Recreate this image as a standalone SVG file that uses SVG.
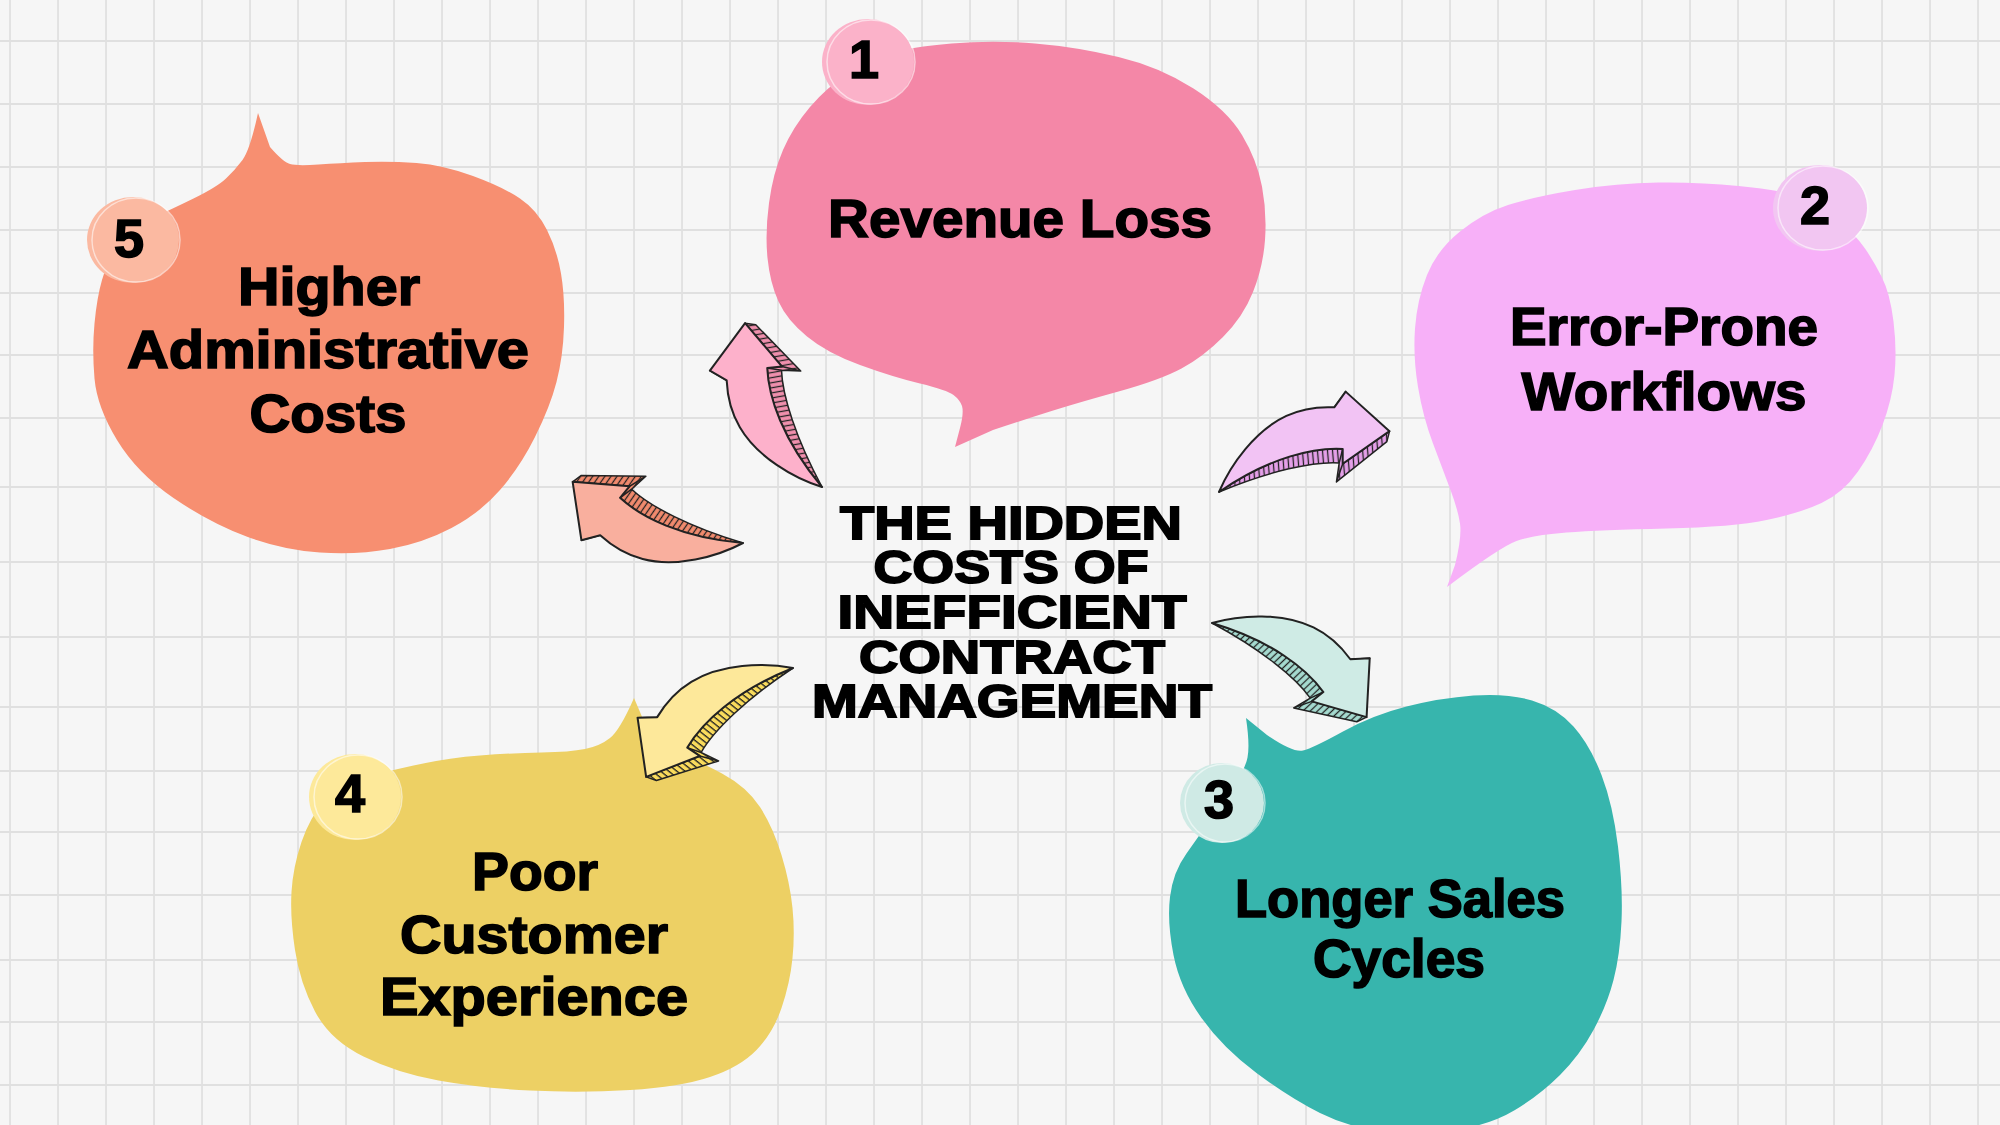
<svg xmlns="http://www.w3.org/2000/svg" xmlns:xlink="http://www.w3.org/1999/xlink" width="2000" height="1125" viewBox="0 0 2000 1125">
<style>
.lbl{font-family:"Liberation Sans",Arial,sans-serif;font-weight:700;fill:#000;stroke:#000;stroke-width:1.6;text-anchor:middle;font-size:53px}
.num{font-family:"Liberation Sans",Arial,sans-serif;font-weight:700;fill:#000;stroke:#000;stroke-width:1.6;text-anchor:middle;font-size:54px}
.ttl{font-family:"Liberation Sans",Arial,sans-serif;font-weight:700;fill:#000;stroke:#000;stroke-width:1.8;text-anchor:middle;font-size:46px}
.grid{stroke:#e0e0e0;stroke-width:1.8;fill:none}
.sk{fill:none;stroke:#fff;stroke-opacity:.55;stroke-width:1.5}
.out{stroke:#222;stroke-width:2;stroke-linejoin:round}
.sout{stroke:#222;stroke-width:1.5;stroke-linejoin:round}
</style>
<defs>
<pattern id="ribs" patternUnits="userSpaceOnUse" width="5" height="10" patternTransform="rotate(15)">
<line x1="1.5" y1="0" x2="1.5" y2="10" stroke="#222" stroke-width="1.3"/>
</pattern>
<path id="face" d="M0,0 C20,-22 55,-46 89,-49 C110,-51 125,-46 137,-41 L153,-52 L181,0 L126,15 L131,1 C105,-10 60,-16 0,0 Z"/>
<path id="side" d="M0,0 C60,-16 105,-10 131,1 L123,13 C100,3 55,-3 0,0 Z M126,15 L131,1 L123,13 L114,30 Z M181,0 L126,15 L114,30 L175,9 Z M137,-41 L153,-52 L145,-40 L129,-29 Z"/>
</defs>

<g id="background">
<rect width="2000" height="1125" fill="#f6f6f6"/>
<path class="grid" d="M10,0V1125M58,0V1125M106,0V1125M154,0V1125M202,0V1125M250,0V1125M298,0V1125M346,0V1125M394,0V1125M442,0V1125M490,0V1125M538,0V1125M586,0V1125M634,0V1125M682,0V1125M730,0V1125M778,0V1125M826,0V1125M874,0V1125M922,0V1125M970,0V1125M1018,0V1125M1066,0V1125M1114,0V1125M1162,0V1125M1210,0V1125M1258,0V1125M1306,0V1125M1354,0V1125M1402,0V1125M1450,0V1125M1498,0V1125M1546,0V1125M1594,0V1125M1642,0V1125M1690,0V1125M1738,0V1125M1786,0V1125M1834,0V1125M1882,0V1125M1930,0V1125M1978,0V1125"/>
<path class="grid" d="M0,41H2000M0,104H2000M0,167H2000M0,230H2000M0,293H2000M0,355H2000M0,418H2000M0,487H2000M0,562H2000M0,637H2000M0,707H2000M0,771H2000M0,832H2000M0,895H2000M0,960H2000M0,1022H2000M0,1085H2000"/>
</g>

<g id="node-5">
<path fill="#f78f71" d="M258,113 L270,147 Q283,162 290,164 Q297,166 318.5,164.5 Q340,163 365,162 Q390,161 416.5,163 Q443,165 473,176 Q503,187 520,198.5 Q537,210 547,230 Q557,250 561,273.5 Q565,297 564,327 Q563,357 556.5,382 Q550,407 535,437 Q520,467 500,490 Q480,513 451.5,528 Q423,543 390,549 Q357,555 320,552.5 Q283,550 246.5,536.5 Q210,523 173.5,498 Q137,473 117,440 Q97,407 94.5,378.5 Q92,350 94.5,323.5 Q97,297 102,280 Q107,263 118.5,245.5 Q130,228 150,219 Q170,210 193.5,198.5 Q217,187 226,178.5 Q235,170 242.5,160 Q250,150 258,113 Z"/>
<ellipse cx="133" cy="240" rx="46" ry="43" fill="#fbb9a1"/>
<ellipse class="sk" cx="136" cy="240" rx="44" ry="42"/>
<text class="num" x="129" y="257">5</text>
<text class="lbl" x="329" y="305" textLength="182" lengthAdjust="spacingAndGlyphs">Higher</text>
<text class="lbl" x="328" y="368" textLength="402" lengthAdjust="spacingAndGlyphs">Administrative</text>
<text class="lbl" x="328" y="432" textLength="157" lengthAdjust="spacingAndGlyphs">Costs</text>
</g>

<g id="node-1">
<path fill="#f487a7" d="M955,447 L960,428 Q964,413 962,406 Q960,400 953.5,395 Q947,390 920,383.5 Q893,377 860,365 Q827,353 807,336.5 Q787,320 778.5,301.5 Q770,283 767.5,258 Q765,233 769,203 Q773,173 783,150 Q793,127 810,107 Q827,87 848.5,73.5 Q870,60 890,53.5 Q910,47 951.5,43.5 Q993,40 1035,43.5 Q1077,47 1118.5,57 Q1160,67 1193.5,88.5 Q1227,110 1242,135 Q1257,160 1262,186.5 Q1267,213 1265,240 Q1263,267 1253,292 Q1243,317 1223,337 Q1203,357 1181.5,368.5 Q1160,380 1118.5,391.5 Q1077,403 1050,411.5 Q1023,420 993,430 L955,447 Z"/>
<ellipse cx="868" cy="62" rx="46" ry="43" fill="#fbb2c9"/>
<ellipse class="sk" cx="871" cy="62" rx="44" ry="42"/>
<text class="num" x="864" y="78">1</text>
<text class="lbl" x="1020" y="237" textLength="384" lengthAdjust="spacingAndGlyphs">Revenue Loss</text>
</g>

<g id="node-2">
<path fill="#f7b0f8" d="M1447,587 L1455,565 Q1462,537 1460,523.5 Q1458,510 1450.5,490 Q1443,470 1433,443.5 Q1423,417 1418,387 Q1413,357 1415,328.5 Q1417,300 1427,275 Q1437,250 1460,231.5 Q1483,213 1508,205 Q1533,197 1575,190 Q1617,183 1658.5,182.5 Q1700,182 1738.5,186 Q1777,190 1798.5,195 Q1820,200 1838.5,218.5 Q1857,237 1865,248.5 Q1873,260 1881.5,276.5 Q1890,293 1893.5,321.5 Q1897,350 1894.5,375 Q1892,400 1882.5,425 Q1873,450 1858,471.5 Q1843,493 1821.5,503 Q1800,513 1766.5,520 Q1733,527 1666.5,528.5 Q1600,530 1566.5,532.5 Q1533,535 1516.5,541 Q1500,547 1447,587 Z"/>
<ellipse cx="1820" cy="208" rx="47" ry="43" fill="#f2c6f2"/>
<ellipse class="sk" cx="1823" cy="208" rx="45" ry="42"/>
<text class="num" x="1815" y="224">2</text>
<text class="lbl" x="1664" y="345" textLength="308" lengthAdjust="spacingAndGlyphs">Error-Prone</text>
<text class="lbl" x="1664" y="410" textLength="285" lengthAdjust="spacingAndGlyphs">Workflows</text>
</g>

<g id="node-3">
<path fill="#37b5ad" d="M1246,718 L1267,735 Q1293,753 1303,750.5 Q1313,748 1343,731.5 Q1373,715 1406.5,706.5 Q1440,698 1473.5,695.5 Q1507,693 1532,700.5 Q1557,708 1573.5,726.5 Q1590,745 1601.5,775 Q1613,805 1618,846.5 Q1623,888 1621.5,921.5 Q1620,955 1613.5,980 Q1607,1005 1593.5,1030 Q1580,1055 1560,1075 Q1540,1095 1515,1110 Q1490,1125 1455,1130 Q1420,1135 1385,1131.5 Q1350,1128 1320,1113 Q1290,1098 1256.5,1073 Q1223,1048 1201.5,1018 Q1180,988 1173.5,955 Q1167,922 1170,897 Q1173,872 1186.5,853.5 Q1200,835 1211,817.5 Q1222,800 1233.5,785 Q1245,770 1247.5,757.5 Q1250,745 1246,718 Z"/>
<ellipse cx="1222" cy="803" rx="42" ry="40" fill="#cfeae5"/>
<ellipse class="sk" cx="1225" cy="803" rx="40" ry="39"/>
<text class="num" x="1219" y="818">3</text>
<text class="lbl" x="1400" y="917" textLength="330" lengthAdjust="spacingAndGlyphs">Longer Sales</text>
<text class="lbl" x="1399" y="977" textLength="172" lengthAdjust="spacingAndGlyphs">Cycles</text>
</g>

<g id="node-4">
<path fill="#edd064" d="M634,698 L640,712 Q650,737 659,745 Q668,753 682.5,756.5 Q697,760 722,773.5 Q747,787 760,807 Q773,827 781.5,855 Q790,883 792.5,908 Q795,933 792.5,958 Q790,983 781.5,1008 Q773,1033 756.5,1050 Q740,1067 710,1077 Q680,1087 630,1090 Q580,1093 530,1090.5 Q480,1088 438.5,1080.5 Q397,1073 363.5,1056.5 Q330,1040 315,1011.5 Q300,983 295,950 Q290,917 291.5,892 Q293,867 301.5,842 Q310,817 325,800 Q340,783 360,778 Q380,773 413.5,765.5 Q447,758 480,755.5 Q513,753 541.5,752.5 Q570,752 585,749 Q600,746 610,738 Q620,730 634,698 Z"/>
<ellipse cx="355" cy="797" rx="46" ry="43" fill="#fde99a"/>
<ellipse class="sk" cx="358" cy="797" rx="44" ry="42"/>
<text class="num" x="350" y="812">4</text>
<text class="lbl" x="535" y="890" textLength="126" lengthAdjust="spacingAndGlyphs">Poor</text>
<text class="lbl" x="534" y="953" textLength="268" lengthAdjust="spacingAndGlyphs">Customer</text>
<text class="lbl" x="534" y="1015" textLength="308" lengthAdjust="spacingAndGlyphs">Experience</text>
</g>

<g id="connectors">
<g id="arrow-1" transform="translate(822,487) rotate(-115.15)">
<use xlink:href="#side" href="#side" fill="#f190ae" class="sout"/>
<use xlink:href="#side" href="#side" fill="url(#ribs)"/>
<use xlink:href="#face" href="#face" fill="#fdb1cb" class="out"/>
</g>
<g id="arrow-2" transform="translate(1219,492) rotate(-19.63)">
<use xlink:href="#side" href="#side" fill="#e6a0ea" class="sout"/>
<use xlink:href="#side" href="#side" fill="url(#ribs)"/>
<use xlink:href="#face" href="#face" fill="#f2c3f4" class="out"/>
</g>
<g id="arrow-3" transform="translate(1212,623) rotate(31.34)">
<use xlink:href="#side" href="#side" fill="#a6dcd1" class="sout"/>
<use xlink:href="#side" href="#side" fill="url(#ribs)"/>
<use xlink:href="#face" href="#face" fill="#cfebe5" class="out"/>
</g>
<g id="arrow-4" transform="translate(793,668) rotate(143.45) scale(1.01,-1.01)">
<use xlink:href="#side" href="#side" fill="#f9db5c" class="sout"/>
<use xlink:href="#side" href="#side" fill="url(#ribs)"/>
<use xlink:href="#face" href="#face" fill="#fde89a" class="out"/>
</g>
<g id="arrow-5" transform="translate(743,543) rotate(-160.26)">
<use xlink:href="#side" href="#side" fill="#f38b6e" class="sout"/>
<use xlink:href="#side" href="#side" fill="url(#ribs)"/>
<use xlink:href="#face" href="#face" fill="#f9af9e" class="out"/>
</g>
</g>

<g id="title">
<text class="ttl" x="1011" y="539" textLength="342" lengthAdjust="spacingAndGlyphs">THE HIDDEN</text>
<text class="ttl" x="1011" y="583" textLength="275" lengthAdjust="spacingAndGlyphs">COSTS OF</text>
<text class="ttl" x="1012" y="628" textLength="349" lengthAdjust="spacingAndGlyphs">INEFFICIENT</text>
<text class="ttl" x="1012" y="673" textLength="306" lengthAdjust="spacingAndGlyphs">CONTRACT</text>
<text class="ttl" x="1012" y="717" textLength="400" lengthAdjust="spacingAndGlyphs">MANAGEMENT</text>
</g>
</svg>
